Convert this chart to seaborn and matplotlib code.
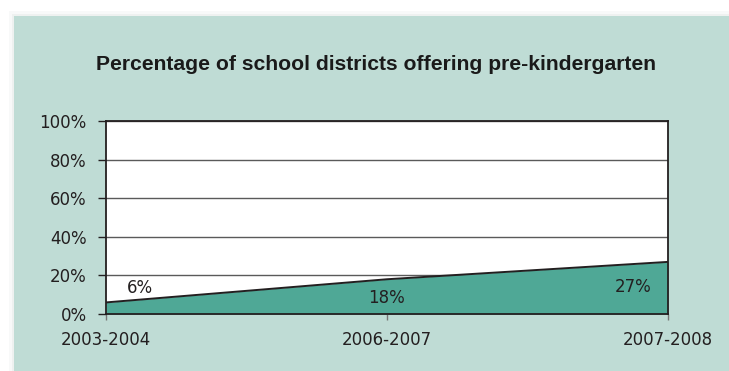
import numpy as np
import pandas as pd
import matplotlib.pyplot as plt
import seaborn as sns
from matplotlib.patches import Rectangle

# data
years = ['2003-2004', '2006-2007', '2007-2008']
pct = [6, 18, 27]
labels = ['6%', '18%', '27%']

df = pd.DataFrame({'year': years, 'pct': pct, 'pos': np.arange(len(years))})

sns.set_theme(style='white')
plt.rcParams['font.family'] = ['DejaVu Sans']

bg = '#bfdcd5'
fill = '#4fa896'
ink = '#231f20'

fig = plt.figure(figsize=(7.29, 3.71), dpi=100, facecolor='white')
# soft shadow + teal panel behind the chart
fig.patches.append(Rectangle((9 / 729, 0), 1, 360 / 371, transform=fig.transFigure,
                             facecolor='#f8f9f9', edgecolor='none', zorder=-3))
fig.patches.append(Rectangle((12 / 729, 0), 1, 357 / 371, transform=fig.transFigure,
                             facecolor='#eef1f0', edgecolor='none', zorder=-2))
fig.patches.append(Rectangle((14 / 729, 0), 1, 355 / 371, transform=fig.transFigure,
                             facecolor=bg, edgecolor='none', zorder=-1))

ax = fig.add_axes([106 / 729, 57 / 371, 562 / 729, 193 / 371])
ax.set_facecolor('white')

ax.fill_between(df['pos'], df['pct'], 0, color=fill, zorder=2, linewidth=0)
sns.lineplot(data=df, x='pos', y='pct', color=ink, linewidth=1.4, ax=ax, zorder=3)

ax.set_xlim(0, len(years) - 1)
ax.set_ylim(0, 100)
ax.set_yticks(range(0, 101, 20))
ax.set_yticklabels([f'{v}%' for v in range(0, 101, 20)], fontsize=12, color=ink)
ax.set_xticks(df['pos'])
ax.set_xticklabels(years, fontsize=12, color=ink)
ax.set_xlabel('')
ax.set_ylabel('')
ax.grid(axis='y', color='#5a5a5a', linewidth=1)
for g in ax.get_ygridlines():
    g.set_zorder(1)

for s in ax.spines.values():
    s.set_color(ink)
    s.set_linewidth(1.3)
ax.tick_params(axis='y', direction='out', length=6, width=1, color=ink, pad=8, left=True)
ax.tick_params(axis='x', direction='out', length=4, width=1, color='#777777', pad=8, bottom=True)

# value labels
ax.text(0.075, pct[0] + 7.5, labels[0], ha='left', va='center', fontsize=12, color=ink, zorder=4)
ax.text(1, pct[1] - 9.5, labels[1], ha='center', va='center', fontsize=12, color=ink, zorder=4)
ax.text(1.94, pct[2] - 13, labels[2], ha='right', va='center', fontsize=12, color=ink, zorder=4)

fig.text(376 / 729, 1 - 64 / 371, 'Percentage of school districts offering pre-kindergarten',
         ha='center', va='center', fontsize=15.2, fontweight='bold', color='#1a1a1a',
         family=['Liberation Sans', 'DejaVu Sans'])

fig.savefig('out.png', dpi=100, facecolor=fig.get_facecolor())
